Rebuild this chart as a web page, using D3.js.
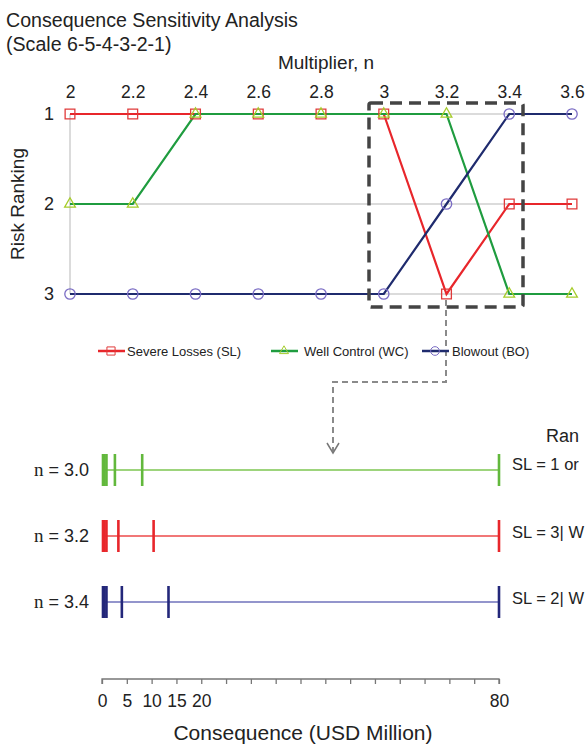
<!DOCTYPE html>
<html><head><meta charset="utf-8">
<script src="https://cdn.jsdelivr.net/npm/d3@7"></script>
<style>body{margin:0;background:#fff}svg{display:block;font-family:"Liberation Sans",Arial,sans-serif}</style>
</head><body>
<svg id="c" width="587" height="746"></svg>
<script>
// ---- data ----
const multipliers = [2, 2.2, 2.4, 2.6, 2.8, 3, 3.2, 3.4, 3.6];
const tickLabelsTop = ["2","2.2","2.4","2.6","2.8","3","3.2","3.4","3.6"];
const rankSL = [1,1,1,1,1,1,3,2,2];
const rankWC = [2,2,1,1,1,1,1,3,3];
const rankBO = [3,3,3,3,3,3,2,1,1];
const ranks = [1,2,3];
const seriesNames = ["Severe Losses (SL)","Well Control (WC)","Blowout (BO)"];
const rowLabels = ["3.0","3.2","3.4"];
const consN30 = [0.2,0.5,0.9,2.6,8.1,80];
const consN32 = [0.2,0.5,0.9,3.3,10.4,80];
const consN34 = [0.2,0.5,0.9,4.0,13.4,80];
const rankTexts = ["SL = 1 or","SL = 3| W","SL = 2| W"];
const rankHeader = "Ran";
const bottomTicks = d3.range(0,81,5);
const bottomLabels = [0,5,10,15,20,80];

const svg = d3.select("#c");
const font = "Liberation Sans, Arial, sans-serif";
const ink = "#222";

// titles
svg.append("text").attr("x",6).attr("y",27).attr("font-size",19.6).attr("fill",ink).text("Consequence Sensitivity Analysis");
svg.append("text").attr("x",6).attr("y",51).attr("font-size",19.6).attr("fill",ink).text("(Scale 6-5-4-3-2-1)");
svg.append("text").attr("x",326).attr("y",69).attr("font-size",19).attr("text-anchor","middle").attr("fill",ink).text("Multiplier, n");

// ---- top chart ----
const x = d3.scalePoint().domain(multipliers).range([70,572]);
const y = d3.scalePoint().domain(ranks).range([114,294]);
const g = svg.append("g");

// grid
g.selectAll("line.h").data(ranks).join("line")
  .attr("x1",70).attr("x2",572).attr("y1",d=>y(d)).attr("y2",d=>y(d))
  .attr("stroke","#cfcfcf").attr("stroke-width",1.5);
g.append("line").attr("x1",70).attr("x2",70).attr("y1",y(1)).attr("y2",y(3)).attr("stroke","#cfcfcf").attr("stroke-width",1.5);

// axes text
const xAxis = d3.axisTop(x).tickSize(0).tickPadding(0).tickFormat((d,i)=>tickLabelsTop[i]);
const gx = svg.append("g").attr("transform","translate(0,98)").call(xAxis);
gx.select(".domain").remove();
gx.selectAll("text").attr("font-size",17.5).attr("font-family",font).attr("fill",ink).attr("dy",0);
const yAxis = d3.axisLeft(y).tickSize(0).tickPadding(0);
const gy = svg.append("g").attr("transform","translate(54,0)").call(yAxis);
gy.select(".domain").remove();
gy.selectAll("text").attr("font-size",18).attr("font-family",font).attr("fill",ink);
svg.append("text").attr("transform","translate(24,204) rotate(-90)").attr("text-anchor","middle").attr("font-size",19).attr("fill",ink).text("Risk Ranking");

const series = [
  {vals:rankSL, line:"#e8262b", mark:"#e03a3a", sym:d3.symbolSquare, size:95},
  {vals:rankWC, line:"#1f9c3f", mark:"#a6cc2a", sym:d3.symbolTriangle, size:50},
  {vals:rankBO, line:"#1f2b6e", mark:"#7a6cc4", sym:d3.symbolCircle, size:85}
];
const line = d3.line().x(d=>x(d[0])).y(d=>y(d[1]));
series.forEach(s=>{
  g.append("path").datum(multipliers.map((m,i)=>[m,s.vals[i]]))
   .attr("d",line).attr("fill","none").attr("stroke",s.line).attr("stroke-width",2.2);
});
series.forEach(s=>{
  g.selectAll(null).data(multipliers.map((m,i)=>[m,s.vals[i]])).join("path")
   .attr("transform",d=>`translate(${x(d[0])},${y(d[1])})`)
   .attr("d",d3.symbol(s.sym,s.size)).attr("fill","none").attr("stroke",s.mark).attr("stroke-width",1.3);
});

// dashed box
svg.append("rect").attr("x",369).attr("y",103).attr("width",154).attr("height",204).attr("rx",2)
  .attr("fill","none").attr("stroke","#444").attr("stroke-width",3.5).attr("stroke-dasharray","12,7");

// connector
svg.append("path").attr("d","M446,300 L446,382 L333,382 L333,451")
  .attr("fill","none").attr("stroke","#8a8a8a").attr("stroke-width",2).attr("stroke-dasharray","6,4");
svg.append("path").attr("d","M327,443 L333,453 L339,443").attr("fill","none").attr("stroke","#777").attr("stroke-width",1.5);

// legend
const legX = [98,271,422];
const legTextX = [29,33,30];
series.forEach((s,i)=>{
  const lg = svg.append("g").attr("transform",`translate(${legX[i]},351)`);
  lg.append("line").attr("x1",0).attr("x2",27).attr("stroke",s.line).attr("stroke-width",2.5);
  lg.append("path").attr("transform","translate(13,0)").attr("d",d3.symbol(s.sym,s.size*0.7)).attr("fill","none").attr("stroke",s.mark).attr("stroke-width",1);
  lg.append("text").attr("x",legTextX[i]).attr("y",4.5).attr("font-size",13).attr("fill",ink).text(seriesNames[i]);
});

// ---- bottom chart ----
const xc = d3.scaleLinear().domain([0,80]).range([102,499]);
const rowY = d3.scalePoint().domain(rowLabels).range([470,602]);
const rows = [
  {vals:consN30, line:"#7cc651", tick:"#62b83c"},
  {vals:consN32, line:"#ec4a4a", tick:"#e8262b"},
  {vals:consN34, line:"#6f72bb", tick:"#23277a"}
];
rows.forEach((r,i)=>{
  const yy = rowY(rowLabels[i]);
  svg.append("line").attr("x1",xc(0)).attr("x2",xc(80)).attr("y1",yy).attr("y2",yy).attr("stroke",r.line).attr("stroke-width",1.6);
  svg.selectAll(null).data(r.vals).join("line")
    .attr("x1",d=>xc(d)).attr("x2",d=>xc(d)).attr("y1",yy-16).attr("y2",yy+16)
    .attr("stroke",r.tick).attr("stroke-width",2.6);
  const t = svg.append("text").attr("x",89).attr("y",yy+6).attr("text-anchor","end").attr("font-size",18).attr("fill",ink);
  t.append("tspan").attr("font-family","Liberation Serif, serif").attr("font-size",19).text("n");
  t.append("tspan").attr("font-family",font).attr("font-size",18).text(" = "+rowLabels[i]);
  svg.append("text").attr("x",512).attr("y",yy+(i===0?0:2)).attr("font-size",16.5).attr("fill",ink).text(rankTexts[i]);
});
svg.append("text").attr("x",546).attr("y",442).attr("font-size",18).attr("fill",ink).text(rankHeader);

// bottom axis
const ga = svg.append("g").attr("transform","translate(0,679)")
  .call(d3.axisBottom(xc).tickValues(bottomTicks).tickSize(5).tickSizeOuter(0).tickPadding(11)
    .tickFormat(d=>bottomLabels.includes(d)?d:""));
ga.select(".domain").attr("stroke","#777").attr("stroke-width",1.3).attr("d","M102,5V0H499V5");
ga.selectAll(".tick line").attr("stroke","#777").attr("stroke-width",1.3);
ga.selectAll("text").attr("font-size",17.5).attr("font-family",font).attr("fill",ink);
svg.append("text").attr("x",303).attr("y",740).attr("text-anchor","middle").attr("font-size",21).attr("fill",ink).text("Consequence (USD Million)");
</script>
</body></html>
